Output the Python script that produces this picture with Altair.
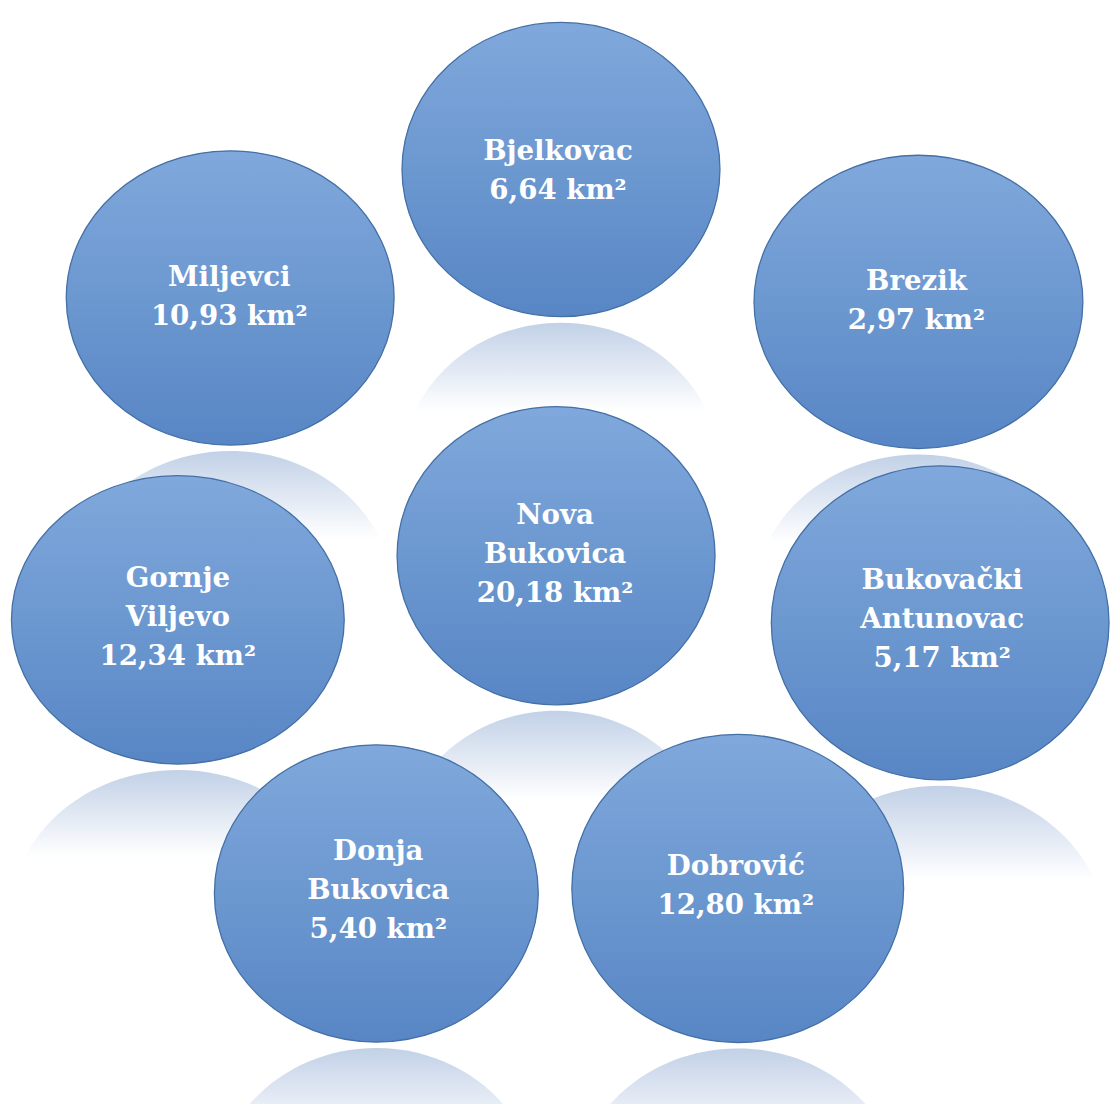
import altair as alt
import pandas as pd

# ---- data ----
names = ["Bjelkovac", "Miljevci", "Brezik", "Nova Bukovica", "Gornje Viljevo",
         "Bukovački Antunovac", "Donja Bukovica", "Dobrović"]
name_lines = [["Bjelkovac"], ["Miljevci"], ["Brezik"], ["Nova", "Bukovica"],
              ["Gornje", "Viljevo"], ["Bukovački", "Antunovac"], ["Donja", "Bukovica"],
              ["Dobrović"]]
areas = [6.64, 10.93, 2.97, 20.18, 12.34, 5.17, 5.40, 12.80]

# ---- diagram layout (page pixels) ----
cx = [566, 231, 928, 561, 178, 950, 379, 745]
cy = [164, 294, 298, 555, 620, 623, 897, 892]
ew = [322, 332, 333, 322, 337, 342, 328, 336]
eh = [298, 298, 297, 302, 292, 318, 301, 312]
tx = [563, 230, 926, 560, 178, 952, 381, 743]
tcy = [168, 296, 300, 556, 620, 622, 897, 892]

LH = 39.5
K = 0.5523


def f(v):
    return f"{v:.4f}"


def ellipse_path(r):
    return (f"M -1 0 C -1 {f(-K*r)} {f(-K)} {f(-r)} 0 {f(-r)} "
            f"C {f(K)} {f(-r)} 1 {f(-K*r)} 1 0 "
            f"C 1 {f(K*r)} {f(K)} {f(r)} 0 {f(r)} "
            f"C {f(-K)} {f(r)} -1 {f(K*r)} -1 0 Z")


def dome_path(r):
    return (f"M -1 0 C -1 {f(-K*r)} {f(-K)} {f(-r)} 0 {f(-r)} "
            f"C {f(K)} {f(-r)} 1 {f(-K*r)} 1 0 Z")


rows = []
for i, n in enumerate(names):
    area_txt = f"{areas[i]:.2f}".replace(".", ",") + " km²"
    lines = name_lines[i] + [area_txt]
    gap = 6
    rows.append(dict(
        name=n,
        rname="r_" + n,
        label="\n".join(lines),
        x=cx[i], y=cy[i],
        tx=tx[i],
        ty=tcy[i] - (len(lines) - 1) * LH / 2 - 2,
        size=ew[i] ** 2,
        ry_base=cy[i] + eh[i] / 2 + gap + eh[i] / 2,
    ))
df = pd.DataFrame(rows)

ell_paths = [ellipse_path(eh[i] / ew[i]) for i in range(len(names))]
dome_paths = [dome_path(eh[i] / ew[i]) for i in range(len(names))]

W, H = 1104, 1080


def X(field):
    return alt.X(f"{field}:Q", scale=alt.Scale(domain=[8, 8 + W], nice=False, zero=False), axis=None)


def Y(field):
    return alt.Y(f"{field}:Q", scale=alt.Scale(domain=[8, 8 + H], nice=False, zero=False, reverse=True), axis=None)


ell_grad = alt.LinearGradient(
    gradient="linear", x1=0, y1=0, x2=0, y2=1,
    stops=[alt.GradientStop(offset=0, color="#80a8dc"),
           alt.GradientStop(offset=0.5, color="#6c98d0"),
           alt.GradientStop(offset=1, color="#5886c5")])

ref_grad = alt.LinearGradient(
    gradient="linear", x1=0, y1=0, x2=0, y2=1,
    stops=[alt.GradientStop(offset=0, color="#c2d1e7"),
           alt.GradientStop(offset=0.2, color="#d6e0ef"),
           alt.GradientStop(offset=0.6, color="#ffffff"),
           alt.GradientStop(offset=1, color="#ffffff")])

reflections = alt.Chart(df).mark_point(filled=True, fill=ref_grad, opacity=1, strokeWidth=0).encode(
    x=X("x"), y=Y("ry_base"),
    shape=alt.Shape("rname:N", scale=alt.Scale(domain=["r_" + n for n in names], range=dome_paths), legend=None),
    size=alt.Size("size:Q", scale=None, legend=None),
)

ellipses = alt.Chart(df).mark_point(filled=True, fill=ell_grad, opacity=1,
                                     stroke="#4470a6", strokeWidth=1.3).encode(
    x=X("x"), y=Y("y"),
    shape=alt.Shape("name:N", scale=alt.Scale(domain=names, range=ell_paths), legend=None),
    size=alt.Size("size:Q", scale=None, legend=None),
)

labels = alt.Chart(df).mark_text(font="DejaVu Serif", fontWeight="bold", fontSize=28,
                                  color="white", lineBreak="\n", lineHeight=LH,
                                  align="center", baseline="middle").encode(
    x=X("tx"), y=Y("ty"), text="label:N")

chart = alt.layer(reflections, ellipses, labels).resolve_scale(
    shape="independent", size="independent"
).properties(width=W, height=H, padding=0).configure_view(stroke=None)

chart.save("out.html", embed_options={"renderer": "svg", "actions": False})
